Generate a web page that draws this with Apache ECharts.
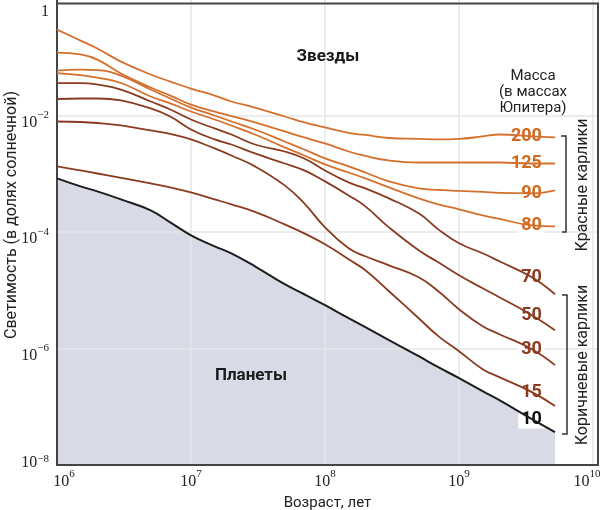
<!DOCTYPE html>
<html>
<head>
<meta charset="utf-8">
<script src="https://cdn.jsdelivr.net/npm/echarts@6/dist/echarts.min.js"></script>
<style>html,body{margin:0;padding:0;background:#fff}#c{width:600px;height:510px}</style>
</head>
<body>
<div id="c"></div>
<script>
// Age, years
const ages = [1e6, 1.5e6, 2e6, 3e6, 5e6, 7e6, 1e7, 1.5e7, 2e7, 3e7, 5e7, 7e7, 1e8, 1.5e8, 2e8, 3e8, 5e8, 7e8, 1e9, 1.5e9, 2e9, 3.5e9, 5.2e9];
// Luminosity (fraction of solar) per mass (Jupiter masses)
const L200 = [0.298, 0.193, 0.141, 0.0843, 0.0505, 0.0383, 0.0290, 0.0220, 0.0174, 0.0137, 0.00961, 0.00759, 0.00623, 0.00501, 0.00463, 0.00411, 0.00396, 0.00388, 0.00396, 0.00437, 0.00472, 0.00437, 0.00420];
const L125 = [0.120, 0.112, 0.0912, 0.0525, 0.0302, 0.0220, 0.0154, 0.0117, 0.00980, 0.00759, 0.00532, 0.00420, 0.00331, 0.00241, 0.00202, 0.00169, 0.00156, 0.00156, 0.00156, 0.00156, 0.00156, 0.00150, 0.00150];
const L90 = [0.0591, 0.0614, 0.0603, 0.0485, 0.0279, 0.0196, 0.0137, 0.0100, 0.00789, 0.00575, 0.00358, 0.00261, 0.00183, 0.00134, 0.00105, 0.000739, 0.000560, 0.000528, 0.000508, 0.000488, 0.000469, 0.000460, 0.000518];
const L80 = [0.0535, 0.0495, 0.0448, 0.0361, 0.0212, 0.0161, 0.0117, 0.00854, 0.00674, 0.00472, 0.00283, 0.00206, 0.00145, 0.00105, 0.000832, 0.000583, 0.000378, 0.000298, 0.000245, 0.000193, 0.000168, 0.000130, 0.000125];
const L70 = [0.0361, 0.0361, 0.0340, 0.0279, 0.0174, 0.0127, 0.00854, 0.00599, 0.00472, 0.00318, 0.00241, 0.00183, 0.00114, 0.000710, 0.000560, 0.000378, 0.000209, 0.000111, 6.39e-5, 4.31e-5, 3.14e-5, 1.67e-5, 8.54e-6];
const L50 = [0.0192, 0.0196, 0.0196, 0.0181, 0.0132, 0.00961, 0.00575, 0.00388, 0.00318, 0.00223, 0.00150, 0.00114, 0.000739, 0.000425, 0.000275, 0.000120, 4.85e-5, 3.02e-5, 1.81e-5, 1.08e-5, 7.58e-6, 3.73e-6, 2.06e-6];
const L30 = [0.00789, 0.00774, 0.00744, 0.00674, 0.00553, 0.00482, 0.00388, 0.00272, 0.00206, 0.00134, 0.000631, 0.000310, 0.000120, 5.24e-5, 3.83e-5, 2.68e-5, 1.67e-5, 9.61e-6, 4.72e-6, 2.41e-6, 1.76e-6, 9.73e-7, 5.18e-7];
const L15 = [0.00134, 0.00114, 0.00101, 0.000848, 0.000683, 0.000583, 0.000479, 0.000363, 0.000298, 0.000222, 0.000135, 9.48e-5, 6.14e-5, 3.40e-5, 2.20e-5, 9.61e-6, 3.31e-6, 1.63e-6, 9.00e-7, 4.42e-7, 3.22e-7, 1.78e-7, 1.03e-7];
const L10 = [0.000832, 0.000606, 0.000498, 0.000363, 0.000235, 0.000146, 8.77e-5, 5.68e-5, 4.31e-5, 2.58e-5, 1.27e-5, 8.54e-6, 5.53e-6, 3.31e-6, 2.32e-6, 1.39e-6, 7.38e-7, 4.78e-7, 3.10e-7, 1.85e-7, 1.30e-7, 6.14e-8, 3.68e-8];

const masses = ['200', '125', '90', '80', '70', '50', '30', '15', '10'];
const curves = [L200, L125, L90, L80, L70, L50, L30, L15, L10];
const labelIndex = 21;

const ORANGE = '#d4702c', BROWN = '#8a3b1f', BLACK = '#1c1c1c';
const lineColors = [ORANGE, ORANGE, ORANGE, ORANGE, BROWN, BROWN, BROWN, BROWN, BLACK];
const labelColors = ['#d2691f', '#d2691f', '#d2691f', '#d2691f', '#8c3b1f', '#8c3b1f', '#8c3b1f', '#8c3b1f', '#111'];

const SM = 0.45;
const serif = "'Liberation Serif', 'DejaVu Serif', serif";
const sans = "Roboto, 'Noto Sans', sans-serif";

function pairs(arr) { return ages.map((a, i) => [a, arr[i]]); }

const series = [];
series.push({
  type: 'line', data: pairs(L10), showSymbol: false, smooth: SM, silent: true, z: 1,
  lineStyle: { width: 0 }, areaStyle: { color: '#d8dae6', opacity: 1, origin: 'start' }
});
curves.forEach((arr, k) => {
  series.push({
    type: 'line', name: masses[k], data: pairs(arr), showSymbol: false, smooth: SM, silent: true, z: 5,
    lineStyle: { color: lineColors[k], width: k === 8 ? 2 : 1.8 },
    markPoint: {
      silent: true, symbol: 'rect', symbolSize: 1, itemStyle: { color: 'rgba(0,0,0,0)' },
      data: [{ coord: [ages[labelIndex], arr[labelIndex]], value: masses[k] }],
      label: {
        show: true, position: 'inside', align: 'right', offset: [13, 0],
        formatter: masses[k], color: labelColors[k], fontFamily: sans, fontWeight: 'bold', fontSize: 18,
        backgroundColor: '#fff', padding: [1, 3, 0, 3]
      }
    }
  });
});

const chart = echarts.init(document.getElementById('c'), null, { renderer: 'canvas' });
chart.setOption({
  animation: false,
  backgroundColor: '#fff',
  grid: { left: 57, right: 2, top: -1, bottom: 45, containLabel: false, outerBoundsMode: 'none' },
  xAxis: {
    type: 'log', logBase: 10, min: 1e6, max: 1.0889e10, z: 2,
    name: 'Возраст, лет', nameLocation: 'middle', nameGap: 31, nameMoveOverlap: false,
    nameTextStyle: { fontFamily: sans, fontSize: 15, color: '#222' },
    axisLine: { show: true, lineStyle: { color: '#444', width: 2 } },
    axisTick: { show: false },
    splitLine: { show: true, lineStyle: { color: '#e6e6e6', width: 1.5 } },
    axisLabel: {
      margin: 4, color: '#222',
      formatter: function (v) {
        const lg = Math.log10(v), e = Math.round(lg);
        if (Math.abs(lg - e) > 1e-6) return '';
        if (e === 6) return '{m6|10}{s|' + e + '}';
        if (e === 10) return '{m|10}{s10|' + e + '}';
        return '{m|10}{s|' + e + '}';
      },
      rich: {
        m: { fontFamily: serif, fontSize: 16, color: '#222' },
        m6: { fontFamily: serif, fontSize: 16, color: '#222', padding: [0, 0, 0, 14] },
        s: { fontFamily: serif, fontSize: 11, color: '#222', padding: [0, 0, 14, 0] },
        s10: { fontFamily: serif, fontSize: 11, color: '#222', padding: [0, 12, 14, 0] }
      }
    }
  },
  yAxis: {
    type: 'log', logBase: 100, min: 1e-8, max: 1, z: 2,
    axisLine: { show: true, lineStyle: { color: '#444', width: 2 } },
    axisTick: { show: false },
    splitLine: { show: true, lineStyle: { color: '#e6e6e6', width: 1.5 } },
    axisLabel: {
      margin: 8, color: '#222',
      formatter: function (v) {
        const e = Math.round(Math.log10(v));
        if (e === 0) return '{one|1}';
        if (e === -8) return '{m8|10}{s8|−' + (-e) + '}';
        return '{m|10}{s|−' + (-e) + '}';
      },
      rich: {
        one: { fontFamily: serif, fontSize: 16, color: '#222', padding: [26, 0, 0, 0] },
        m: { fontFamily: serif, fontSize: 16, color: '#222', padding: [14, 0, 0, 0] },
        s: { fontFamily: serif, fontSize: 11, color: '#222' },
        m8: { fontFamily: serif, fontSize: 16, color: '#222', padding: [0, 0, 4, 0] },
        s8: { fontFamily: serif, fontSize: 11, color: '#222', padding: [0, 0, 11, 0] }
      }
    }
  },
  series: series,
  graphic: [
    { type: 'line', z: 10, shape: { x1: 56, y1: 3.5, x2: 599, y2: 3.5 }, style: { stroke: '#444', lineWidth: 2 } },
    { type: 'line', z: 10, shape: { x1: 598, y1: 3, x2: 598, y2: 466 }, style: { stroke: '#444', lineWidth: 2 } },
    { type: 'text', z: 10, x: 12, y: 215, rotation: Math.PI / 2, style: { text: 'Светимость (в долях солнечной)', font: "16px Roboto, 'Noto Sans', sans-serif", fill: '#222', align: 'center', verticalAlign: 'middle' } },
    { type: 'text', z: 10, x: 328, y: 57, style: { text: 'Звезды', font: "bold 17px Roboto, 'Noto Sans', sans-serif", fill: '#1a1a1a', align: 'center', verticalAlign: 'middle' } },
    { type: 'text', z: 10, x: 251, y: 376, style: { text: 'Планеты', font: "bold 17px Roboto, 'Noto Sans', sans-serif", fill: '#1a1a1a', align: 'center', verticalAlign: 'middle' } },
    { type: 'text', z: 10, x: 533, y: 92, style: { text: 'Масса\n(в массах\nЮпитера)', font: "15px Roboto, 'Noto Sans', sans-serif", lineHeight: 16, fill: '#222', align: 'center', verticalAlign: 'middle' } },
    { type: 'polyline', z: 10, shape: { points: [[561, 136], [566, 136], [566, 232], [562, 232]] }, style: { stroke: '#333', lineWidth: 1.5, fill: null } },
    { type: 'polyline', z: 10, shape: { points: [[562, 295], [567, 295], [567, 434], [562, 434]] }, style: { stroke: '#333', lineWidth: 1.5, fill: null } },
    { type: 'text', z: 10, x: 583, y: 185, rotation: Math.PI / 2, style: { text: 'Красные карлики', font: "16px Roboto, 'Noto Sans', sans-serif", fill: '#222', align: 'center', verticalAlign: 'middle' } },
    { type: 'text', z: 10, x: 583, y: 365, rotation: Math.PI / 2, style: { text: 'Коричневые карлики', font: "16px Roboto, 'Noto Sans', sans-serif", fill: '#222', align: 'center', verticalAlign: 'middle' } }
  ]
});
</script>
</body>
</html>
